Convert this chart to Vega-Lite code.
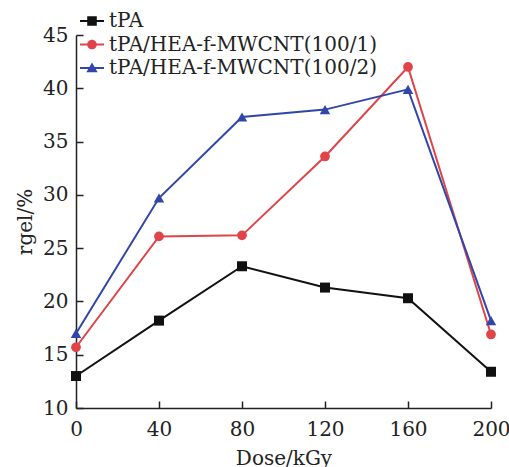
{
  "$schema": "https://vega.github.io/schema/vega-lite/v6.json",
  "width": 415,
  "height": 373,
  "autosize": {"type": "none"},
  "padding": {"left": 76, "top": 35, "right": 18, "bottom": 59},
  "background": "white",
  "config": {
    "view": {"stroke": null},
    "font": "DejaVu Serif",
    "axis": {
      "labelFont": "DejaVu Serif",
      "titleFont": "DejaVu Serif",
      "labelFontSize": 20,
      "titleFontSize": 20,
      "titleFontWeight": "normal",
      "labelColor": "#222",
      "titleColor": "#222",
      "domainColor": "#222",
      "tickColor": "#222",
      "domainWidth": 1.5,
      "tickWidth": 1.5,
      "tickSize": -7,
      "grid": false
    }
  },
  "data": {
    "values": [
      {"dose": 0, "r": 13.0, "series": "tPA"},
      {"dose": 40, "r": 18.2, "series": "tPA"},
      {"dose": 80, "r": 23.3, "series": "tPA"},
      {"dose": 120, "r": 21.3, "series": "tPA"},
      {"dose": 160, "r": 20.3, "series": "tPA"},
      {"dose": 200, "r": 13.4, "series": "tPA"},
      {"dose": 0, "r": 15.7, "series": "tPA/HEA-f-MWCNT(100/1)"},
      {"dose": 40, "r": 26.1, "series": "tPA/HEA-f-MWCNT(100/1)"},
      {"dose": 80, "r": 26.2, "series": "tPA/HEA-f-MWCNT(100/1)"},
      {"dose": 120, "r": 33.6, "series": "tPA/HEA-f-MWCNT(100/1)"},
      {"dose": 160, "r": 42.0, "series": "tPA/HEA-f-MWCNT(100/1)"},
      {"dose": 200, "r": 16.9, "series": "tPA/HEA-f-MWCNT(100/1)"},
      {"dose": 0, "r": 17.0, "series": "tPA/HEA-f-MWCNT(100/2)"},
      {"dose": 40, "r": 29.7, "series": "tPA/HEA-f-MWCNT(100/2)"},
      {"dose": 80, "r": 37.3, "series": "tPA/HEA-f-MWCNT(100/2)"},
      {"dose": 120, "r": 38.0, "series": "tPA/HEA-f-MWCNT(100/2)"},
      {"dose": 160, "r": 39.9, "series": "tPA/HEA-f-MWCNT(100/2)"},
      {"dose": 200, "r": 18.2, "series": "tPA/HEA-f-MWCNT(100/2)"}
    ]
  },
  "encoding": {
    "x": {
      "field": "dose",
      "type": "quantitative",
      "title": "Dose/kGy",
      "scale": {"domain": [0, 200], "nice": false},
      "axis": {"values": [0, 40, 80, 120, 160, 200], "labelPadding": 18, "titlePadding": 9, "labelFlush": false}
    },
    "y": {
      "field": "r",
      "type": "quantitative",
      "title": "rgel/%",
      "scale": {"domain": [10, 45], "nice": false, "zero": false},
      "axis": {"values": [10, 15, 20, 25, 30, 35, 40, 45], "labelPadding": 15, "titlePadding": 7}
    },
    "color": {
      "field": "series",
      "type": "nominal",
      "scale": {
        "domain": ["tPA", "tPA/HEA-f-MWCNT(100/1)", "tPA/HEA-f-MWCNT(100/2)"],
        "range": ["#111111", "#e04448", "#3046a8"]
      },
      "legend": {
        "orient": "none",
        "legendX": 4,
        "legendY": -26,
        "title": null,
        "symbolSize": 576,
        "symbolStrokeWidth": 0,
        "rowPadding": 1.5,
        "labelOffset": 5,
        "labelFont": "DejaVu Serif",
        "labelFontSize": 20,
        "labelColor": "#222",
        "labelLimit": 400
      }
    }
  },
  "layer": [
    {
      "mark": {"type": "line", "strokeWidth": 2}
    },
    {
      "mark": {"type": "point", "filled": true, "opacity": 1, "size": 0},
      "encoding": {
        "shape": {
          "field": "series",
          "type": "nominal",
          "scale": {
            "domain": ["tPA", "tPA/HEA-f-MWCNT(100/1)", "tPA/HEA-f-MWCNT(100/2)"],
            "range": [
              "M-1,-0.08H1V0.08H-1Z M-0.4,-0.4H0.4V0.4H-0.4Z",
              "M-1,-0.08H1V0.08H-1Z M-0.4,0A0.4,0.4 0 1,1 0.4,0A0.4,0.4 0 1,1 -0.4,0Z",
              "M-1,-0.08H1V0.08H-1Z M0,-0.45L0.47,0.36L-0.47,0.36Z"
            ]
          }
        }
      }
    },
    {
      "transform": [{"filter": "datum.series == 'tPA'"}],
      "mark": {"type": "point", "shape": "square", "filled": true, "opacity": 1, "size": 100}
    },
    {
      "transform": [{"filter": "datum.series == 'tPA/HEA-f-MWCNT(100/1)'"}],
      "mark": {"type": "point", "shape": "circle", "filled": true, "opacity": 1, "size": 95}
    },
    {
      "transform": [{"filter": "datum.series == 'tPA/HEA-f-MWCNT(100/2)'"}],
      "mark": {"type": "point", "shape": "triangle-up", "filled": true, "opacity": 1, "size": 110}
    }
  ]
}
